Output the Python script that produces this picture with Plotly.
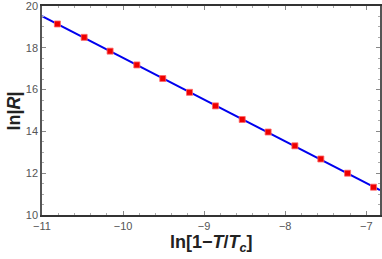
import numpy as np
import plotly.graph_objects as go

x_vals = [-10.81, -10.48, -10.16, -9.83, -9.51, -9.18, -8.86, -8.53, -8.21, -7.88, -7.56, -7.23, -6.91]
y_vals = [19.14, 18.50, 17.84, 17.18, 16.53, 15.87, 15.22, 14.57, 13.97, 13.31, 12.68, 12.00, 11.33]
x_range = [-11, -6.83]
y_range = [10, 20]
x_ticks = [-11, -10, -9, -8, -7]
y_ticks = [10, 12, 14, 16, 18, 20]

slope, intercept = np.polyfit(x_vals, y_vals, 1)
line_x = np.array(x_range)
line_y = slope * line_x + intercept

fig = go.Figure()
fig.add_trace(go.Scatter(x=line_x, y=line_y, mode="lines",
                         line=dict(color="#0000ee", width=2), showlegend=False))
fig.add_trace(go.Scatter(x=x_vals, y=y_vals, mode="markers",
                         marker=dict(symbol="square", size=6, color="#ee0000",
                                     line=dict(color="#ff6666", width=0.8)),
                         showlegend=False))

fig.update_layout(
    width=382, height=259,
    margin=dict(l=42, r=2, t=6, b=44, autoexpand=False),
    plot_bgcolor="white", paper_bgcolor="white",
    font=dict(family="Liberation Sans, Arial, sans-serif", size=11, color="#555555"),
    annotations=[
        dict(text="<b>ln[1\u2212<i>T</i>/<i>T<sub>c</sub></i>]</b>", xref="paper", yref="paper",
             x=0.5, y=-0.135, xanchor="center", yanchor="middle", showarrow=False,
             font=dict(size=18, color="#222222")),
        dict(text="<b>ln|<i>R</i>|</b>", xref="paper", yref="paper",
             x=-0.083, y=0.5, xanchor="center", yanchor="middle", showarrow=False,
             textangle=-90, font=dict(size=18, color="#222222")),
    ],
)
fig.update_xaxes(range=x_range, tickvals=x_ticks, ticktext=["\u221211", "\u221210", "\u22129", "\u22128", "\u22127"],
                 automargin=False, ticklabeloverflow="allow",
                 showgrid=False, zeroline=False, showline=True, linecolor="#333333", linewidth=1.5,
                 mirror="ticks", ticks="inside", ticklen=4, tickcolor="#888888",
                 minor=dict(dtick=0.2, ticks="inside", ticklen=2, tickcolor="#aaaaaa"))
fig.update_yaxes(range=y_range, tickvals=y_ticks,
                 automargin=False, ticklabeloverflow="allow",
                 showgrid=False, zeroline=False, showline=True, linecolor="#555555", linewidth=1.5,
                 mirror="ticks", ticks="inside", ticklen=4, tickcolor="#888888",
                 minor=dict(dtick=0.5, ticks="inside", ticklen=2, tickcolor="#aaaaaa"))

fig.write_html("out.html", config={"displayModeBar": False},
               post_script="document.body.style.margin='0';document.body.style.padding='0';document.body.style.overflow='hidden';")
